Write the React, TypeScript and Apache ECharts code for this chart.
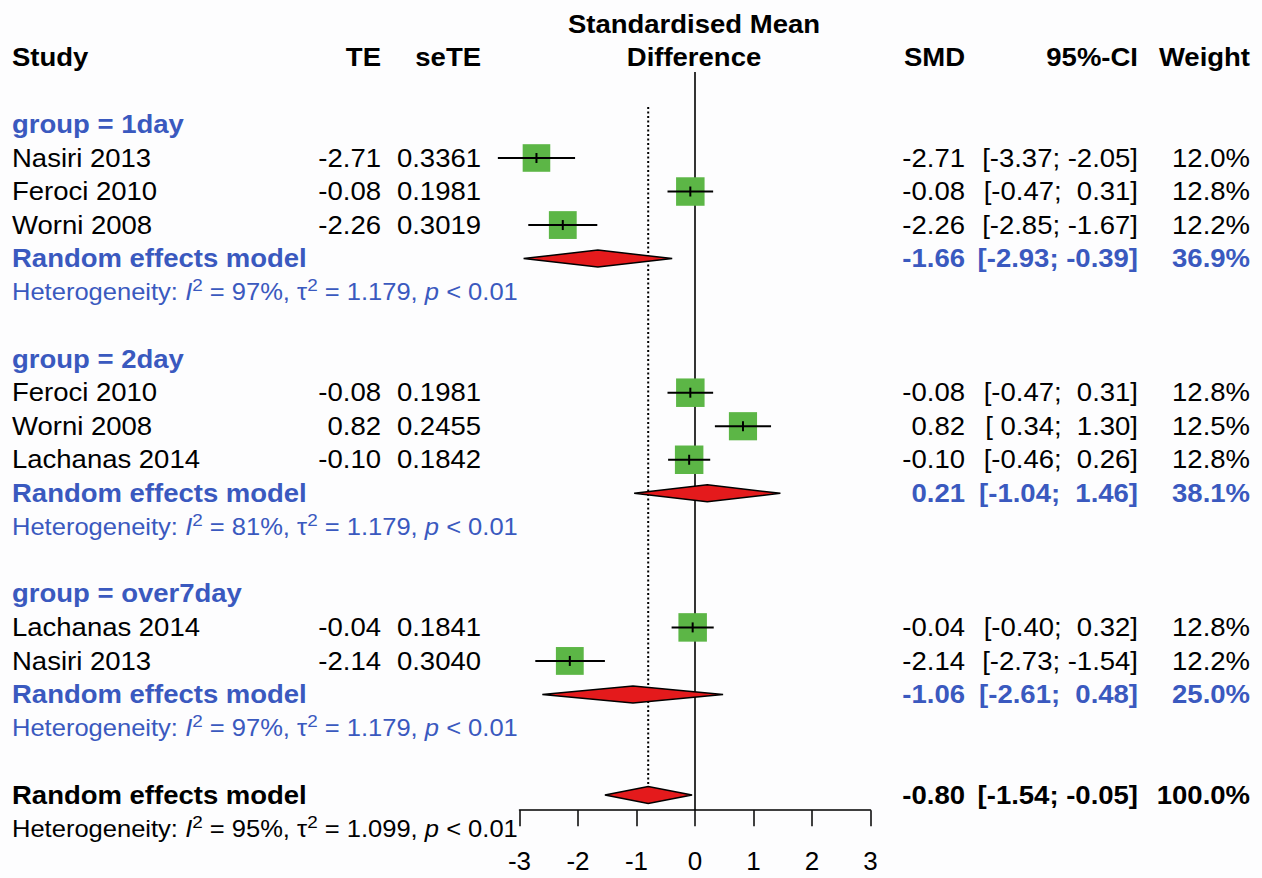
import React, { useEffect, useRef } from "react";
import * as echarts from "echarts";

// ---------- data ----------
const studyLabels = ["Nasiri 2013", "Feroci 2010", "Worni 2008", "Feroci 2010", "Worni 2008", "Lachanas 2014", "Lachanas 2014", "Nasiri 2013"];
const studyRows = [3, 4, 5, 10, 11, 12, 17, 18];
const studyTE = [-2.71, -0.08, -2.26, -0.08, 0.82, -0.10, -0.04, -2.14];
const studySeTE = ["0.3361", "0.1981", "0.3019", "0.1981", "0.2455", "0.1842", "0.1841", "0.3040"];
const studyLower = [-3.37, -0.47, -2.85, -0.47, 0.34, -0.46, -0.40, -2.73];
const studyUpper = [-2.05, 0.31, -1.67, 0.31, 1.30, 0.26, 0.32, -1.54];
const studyWeight = [12.0, 12.8, 12.2, 12.8, 12.5, 12.8, 12.8, 12.2];

const groupLabels = ["group = 1day", "group = 2day", "group = over7day"];
const groupRows = [2, 9, 16];

const pooledRows = [6, 13, 19, 22];
const pooledEst = [-1.66, 0.21, -1.06, -0.80];
const pooledLower = [-2.93, -1.04, -2.61, -1.54];
const pooledUpper = [-0.39, 1.46, 0.48, -0.05];
const pooledWeight = [36.9, 38.1, 25.0, 100.0];

const hetRows = [7, 14, 20, 23];
const hetI2 = ["97%", "81%", "97%", "95%"];
const hetTau2 = ["1.179", "1.179", "1.179", "1.099"];
const hetP = ["< 0.01", "< 0.01", "< 0.01", "< 0.01"];

const xMin = -3;
const xMax = 3;
const xInterval = 1;
const overallEstimate = -0.80;

// ---------- layout / style ----------
const W = 1262;
const H = 878;
const BG = "#fdfdfe";
const FONT = "Liberation Sans";
const BLUE = "#3a59bf";
const GREEN = "#5cb646";
const RED = "#e41a1c";
const SX = 1.1;
const gridTop = 57.4;
const rowH = 33.53;
const axisRow = 22.45;
const gridLeft = 519.5;
const gridRight = W - 870.5;
const rowY = (r: number) => gridTop + r * rowH;

const fmt2 = (v: number) => v.toFixed(2);
const padNum = (v: number) => (v >= 0 ? "\u00A0" : "") + fmt2(v);
const ci = (lo: number, hi: number) => "[" + padNum(lo) + "; " + padNum(hi) + "]";
const pct = (w: number) => w.toFixed(1) + "%";

function label(x: number, row: number, text: string, o: any = {}) {
  return {
    type: "text",
    x,
    y: rowY(row),
    scaleX: o.sx ?? SX,
    silent: true,
    style: {
      text,
      fill: o.color ?? "#000",
      fontSize: o.size ?? 25,
      fontWeight: o.bold ? "bold" : "normal",
      fontFamily: FONT,
      align: o.align ?? "left",
      verticalAlign: "middle",
    },
  };
}

function het(row: number, i2: string, tau2: string, p: string, color: string) {
  const base = { fill: color, fontFamily: FONT, fontSize: 23 };
  return {
    type: "text",
    x: 12,
    y: rowY(row),
    scaleX: 1.11,
    silent: true,
    style: {
      text: `Heterogeneity: {it|I}{sup|2}{n| = ${i2}, \u03C4}{sup|2}{n| = ${tau2}, }{it|p}{n| ${p}}`,
      ...base,
      lineHeight: 30,
      align: "left",
      verticalAlign: "middle",
      rich: {
        n: { ...base, lineHeight: 30 },
        it: { ...base, fontStyle: "italic", lineHeight: 30 },
        sup: { ...base, fontSize: 17, lineHeight: 6, verticalAlign: "top" },
      },
    },
  };
}

const COL_STUDY = 12;
const COL_TE = 381;
const COL_SE = 481;
const COL_SMD = 965;
const COL_CI = 1138;
const COL_W = 1250;

function buildGraphics() {
  const g: any[] = [];
  // headers
  g.push(label(COL_STUDY, 0, "Study", { bold: true }));
  g.push(label(COL_TE, 0, "TE", { bold: true, align: "right" }));
  g.push(label(COL_SE, 0, "seTE", { bold: true, align: "right" }));
  g.push(label(694, -0.98, "Standardised Mean", { bold: true, align: "center" }));
  g.push(label(694, 0, "Difference", { bold: true, align: "center" }));
  g.push(label(COL_SMD, 0, "SMD", { bold: true, align: "right" }));
  g.push(label(COL_CI, 0, "95%-CI", { bold: true, align: "right" }));
  g.push(label(COL_W, 0, "Weight", { bold: true, align: "right" }));

  groupLabels.forEach((t, i) => g.push(label(COL_STUDY, groupRows[i], t, { bold: true, color: BLUE })));

  studyLabels.forEach((t, i) => {
    const r = studyRows[i];
    g.push(label(COL_STUDY, r, t));
    g.push(label(COL_TE, r, fmt2(studyTE[i]), { align: "right" }));
    g.push(label(COL_SE, r, studySeTE[i], { align: "right" }));
    g.push(label(COL_SMD, r, fmt2(studyTE[i]), { align: "right" }));
    g.push(label(COL_CI, r, ci(studyLower[i], studyUpper[i]), { align: "right" }));
    g.push(label(COL_W, r, pct(studyWeight[i]), { align: "right" }));
  });

  pooledRows.forEach((r, i) => {
    const color = i < 3 ? BLUE : "#000";
    g.push(label(COL_STUDY, r, "Random effects model", { bold: true, color }));
    g.push(label(COL_SMD, r, fmt2(pooledEst[i]), { bold: true, color, align: "right" }));
    g.push(label(COL_CI, r, ci(pooledLower[i], pooledUpper[i]), { bold: true, color, align: "right" }));
    g.push(label(COL_W, r, pct(pooledWeight[i]), { bold: true, color, align: "right" }));
  });

  hetRows.forEach((r, i) => g.push(het(r, hetI2[i], hetTau2[i], hetP[i], i < 3 ? BLUE : "#000")));
  return g;
}

function buildOption() {
  const studyData = studyRows.map((r, i) => [studyTE[i], r, studyLower[i], studyUpper[i], studyWeight[i]]);
  const pooledData = pooledRows.map((r, i) => [pooledEst[i], r, pooledLower[i], pooledUpper[i]]);

  return {
    animation: false,
    backgroundColor: BG,
    grid: { left: gridLeft, right: gridRight, top: gridTop, bottom: H - rowY(axisRow), containLabel: false },
    xAxis: {
      type: "value",
      min: xMin,
      max: xMax,
      interval: xInterval,
      axisLine: { show: true, onZero: false, lineStyle: { color: "#000", width: 1.5 } },
      axisTick: { show: true, inside: false, length: 16, lineStyle: { color: "#000", width: 1.5 } },
      axisLabel: {
        show: true,
        color: "#000",
        fontSize: 26,
        fontFamily: FONT,
        margin: 38,
        showMinLabel: true,
        showMaxLabel: true,
      },
      splitLine: { show: false },
    },
    yAxis: { type: "value", inverse: true, min: 0, max: axisRow, show: false },
    graphic: buildGraphics(),
    series: [
      {
        type: "line",
        silent: true,
        symbol: "none",
        data: [[0, 0.435], [0, axisRow]],
        lineStyle: { color: "#000", width: 1.6 },
        z: 1,
      },
      {
        type: "line",
        silent: true,
        symbol: "none",
        data: [[overallEstimate, 1.48], [overallEstimate, 22]],
        lineStyle: { color: "#000", width: 2, type: [2, 2.5] },
        z: 1,
      },
      {
        type: "custom",
        silent: true,
        clip: false,
        z: 3,
        data: studyData,
        encode: { x: 0, y: 1 },
        renderItem: (params: any, api: any) => {
          const c = api.coord([api.value(0), api.value(1)]);
          const lo = api.coord([api.value(2), api.value(1)]);
          const hi = api.coord([api.value(3), api.value(1)]);
          const s = 28.5 * Math.sqrt(api.value(4) / 12.8);
          return {
            type: "group",
            children: [
              { type: "rect", shape: { x: c[0] - s / 2, y: c[1] - s / 2, width: s, height: s }, style: { fill: GREEN } },
              { type: "line", shape: { x1: lo[0], y1: c[1], x2: hi[0], y2: c[1] }, style: { stroke: "#000", lineWidth: 2 } },
              { type: "line", shape: { x1: c[0], y1: c[1] - 5, x2: c[0], y2: c[1] + 5 }, style: { stroke: "#000", lineWidth: 2 } },
            ],
          };
        },
      },
      {
        type: "custom",
        silent: true,
        clip: false,
        z: 3,
        data: pooledData,
        encode: { x: 0, y: 1 },
        renderItem: (params: any, api: any) => {
          const c = api.coord([api.value(0), api.value(1)]);
          const lo = api.coord([api.value(2), api.value(1)]);
          const hi = api.coord([api.value(3), api.value(1)]);
          const hh = 8.5;
          return {
            type: "polygon",
            shape: { points: [[lo[0], c[1]], [c[0], c[1] - hh], [hi[0], c[1]], [c[0], c[1] + hh]] },
            style: { fill: RED, stroke: "#000", lineWidth: 1.5 },
          };
        },
      },
    ],
  };
}

export default function App() {
  const ref = useRef<HTMLDivElement>(null);
  useEffect(() => {
    const chart = echarts.init(ref.current as HTMLDivElement, null, { renderer: "svg" });
    chart.setOption(buildOption() as any);
    return () => chart.dispose();
  }, []);
  return (
    <div
      ref={ref}
      style={{ position: "absolute", left: 0, top: 0, width: W, height: H, background: BG }}
    />
  );
}
